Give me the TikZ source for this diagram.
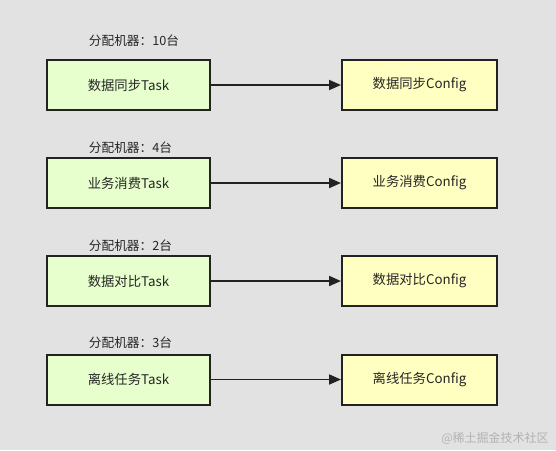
\documentclass[tikz,border=0pt]{standalone}
\usepackage{fontspec}
\setmainfont{Noto Sans CJK SC}
\usetikzlibrary{arrows.meta}
\definecolor{bg}{HTML}{E2E2E2}
\definecolor{taskfill}{HTML}{E6FFCC}
\definecolor{cfgfill}{HTML}{FFFFC2}
\definecolor{edge}{HTML}{222222}
\tikzset{
  taskbox/.style={draw=edge, line width=1.5pt, fill=taskfill, minimum width=163*0.75pt, minimum height=50*0.75pt, inner sep=0pt, font=\fontsize{10}{12}\selectfont, text=black!85},
  cfgbox/.style={draw=edge, line width=1.5pt, fill=cfgfill, minimum width=155*0.75pt, minimum height=50*0.75pt, inner sep=0pt, font=\fontsize{10}{12}\selectfont, text=black!85},
  lbl/.style={font=\fontsize{9.5}{11}\selectfont, text=black!85, inner sep=0pt},
  conn/.style={draw=edge, line width=1.4pt, -{Triangle[length=9pt,width=7.5pt]}}
}
\begin{document}
\begin{tikzpicture}[x=0.75pt,y=-0.75pt]
\fill[bg] (0,0) rectangle (556,450);
\useasboundingbox (0,0) rectangle (556,450);
\node[taskbox] (t1) at (128.5,85) {数据同步Task};
\node[taskbox] (t2) at (128.5,183) {业务消费Task};
\node[taskbox] (t3) at (128.5,281) {数据对比Task};
\node[taskbox] (t4) at (128.5,379.5) {离线任务Task};
\node[cfgbox] (c1) at (419.5,85) {数据同步Config};
\node[cfgbox] (c2) at (419.5,183) {业务消费Config};
\node[cfgbox] (c3) at (419.5,281) {数据对比Config};
\node[cfgbox] (c4) at (419.5,379.5) {离线任务Config};
\node[lbl] (l1) at (134,41) {分配机器：10台};
\node[lbl] (l2) at (130.5,148) {分配机器：4台};
\node[lbl] (l3) at (130.5,246) {分配机器：2台};
\node[lbl] (l4) at (130.5,343) {分配机器：3台};
\draw[conn] (t1) -- (c1);
\draw[conn] (t2) -- (c2);
\draw[conn] (t3) -- (c3);
\draw[conn] (t4) -- (c4);
\node[font=\fontsize{9}{10}\selectfont, text=black!30, inner sep=0pt] (wm) at (495,438) {@稀土掘金技术社区};
\end{tikzpicture}
\end{document}
